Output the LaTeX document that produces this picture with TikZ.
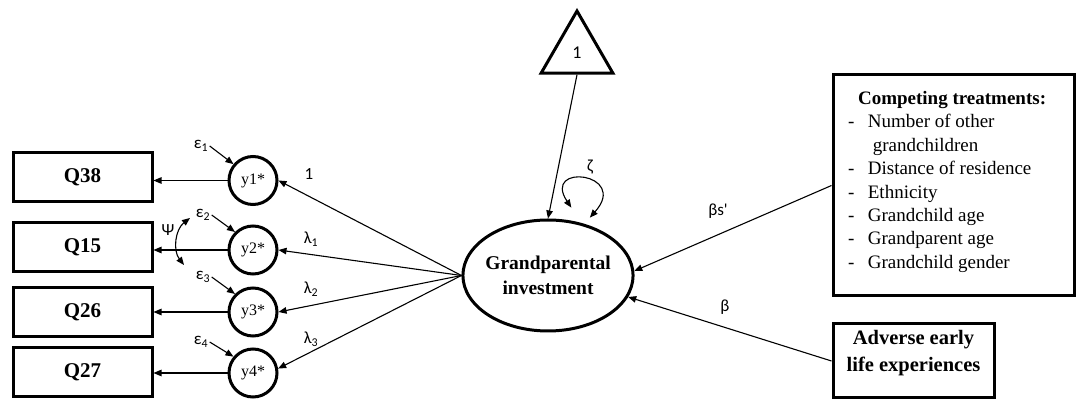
\documentclass[tikz,border=0pt]{standalone}
\usepackage{fontspec}
\setmainfont{Liberation Serif}
\newfontfamily\lblfont{Carlito}
\usetikzlibrary{arrows.meta,shapes.geometric}
\begin{document}
\begin{tikzpicture}[x=1pt,y=1pt,line width=1.1pt,>={Triangle[length=8pt,width=6.5pt]},
  obs/.style={draw,line width=3pt,minimum width=139pt,minimum height=49pt,inner sep=0pt,font=\fontsize{21}{25}\selectfont\bfseries},
  lat/.style={draw,circle,line width=3pt,minimum size=48pt,inner sep=0pt,font=\fontsize{16}{19}\selectfont},
  lbl/.style={inner sep=1pt,font=\lblfont\fontsize{17}{20}\selectfont}]
\useasboundingbox (0,0) rectangle (1076,401);
% indicators and latent responses
\foreach \q/\n/\by/\cy in {38/1/223.5/220.5,15/2/153.5/151,26/3/89/89,27/4/28.5/28}
  {\node[obs] (q\q) at (82.5,\by) {Q\q};
   \node[lat] (y\n) at (253,\cy) {y\n*};}
\node[draw,ellipse,line width=3pt,minimum width=170pt,minimum height=111pt,inner xsep=-2.5pt,inner ysep=0pt,align=center,font=\fontsize{19.5}{25}\selectfont\bfseries] (gi) at (548,125.5) {Grandparental\\investment};
\node[draw,regular polygon,regular polygon sides=3,line width=3pt,minimum size=83pt,inner sep=0pt,font=\lblfont\fontsize{18}{20}\selectfont] (tri) at (577,348.5) {1};
% covariates
\node[draw,line width=3pt,minimum width=241pt,minimum height=221pt] (ct) at (953.5,215.5) {};
\node[anchor=north west,inner sep=0pt,font=\fontsize{19}{23.4}\selectfont] (cttext) at ([shift={(16pt,-14pt)}]ct.north west)
  {\begin{tabular}{@{}l@{\hspace{13.5pt}}l@{}}
   \multicolumn{2}{@{}l@{}}{\hspace{10pt}\textbf{Competing treatments:}}\\
   - & Number of other\\
     & \hspace{5pt}grandchildren\\
   - & Distance of residence\\
   - & Ethnicity\\
   - & Grandchild age\\
   - & Grandparent age\\
   - & Grandchild gender
   \end{tabular}};
\node[draw,line width=3pt,minimum width=161pt,minimum height=74pt] (ae) at (913.5,40) {};
\node[align=center,inner sep=0pt,font=\fontsize{20.5}{27}\selectfont\bfseries] (aetext) at ([yshift=7.5pt]ae.center) {Adverse early\\life experiences};
% labels
\node[lbl] (e1) at (201,255) {ε\textsubscript{1}};
\node[lbl] (e2) at (203,186) {ε\textsubscript{2}};
\node[lbl] (e3) at (203,124) {ε\textsubscript{3}};
\node[lbl] (e4) at (201,59) {ε\textsubscript{4}};
\node[lbl] (psi) at (168,171) {Ψ};
\node[lbl] (l0) at (309,227) {1};
\node[lbl] (l1) at (311,162) {λ\textsubscript{1}};
\node[lbl] (l2) at (311,112) {λ\textsubscript{2}};
\node[lbl] (l3) at (311,62) {λ\textsubscript{3}};
\node[lbl] (zeta) at (590,234) {ζ};
\node[lbl] (bs) at (718,190) {βs\symbol{39}};
\node[lbl] (b) at (725,94) {β};
\coordinate (psitop) at (190,183);
\coordinate (psibot) at (184,136);
% paths
\foreach \n/\a in {1/0,2/0,3/0,4/10}
  \draw[->] (gi.west) -- (y\n.\a);
\foreach \q/\n in {38/1,15/2,26/3,27/4}
  \draw[->] (y\n.west) -- (y\n.west -| q\q.east);
\foreach \n/\a in {1/140,2/135,3/135,4/140}
  \draw[->] (e\n.east) -- (y\n.\a);
\draw[<->] (psitop) to[bend right=45] (psibot);
\draw[->] (tri.south) -- (gi.north);
\draw[<->] ([yshift=13pt]gi.67) .. controls +(-30,45) and +(40,45) .. ([yshift=8pt]gi.50);
\draw[->] (ct.west) -- (gi.3);
\draw[->] (ae.west) -- (gi.-15);
\end{tikzpicture}
\end{document}
